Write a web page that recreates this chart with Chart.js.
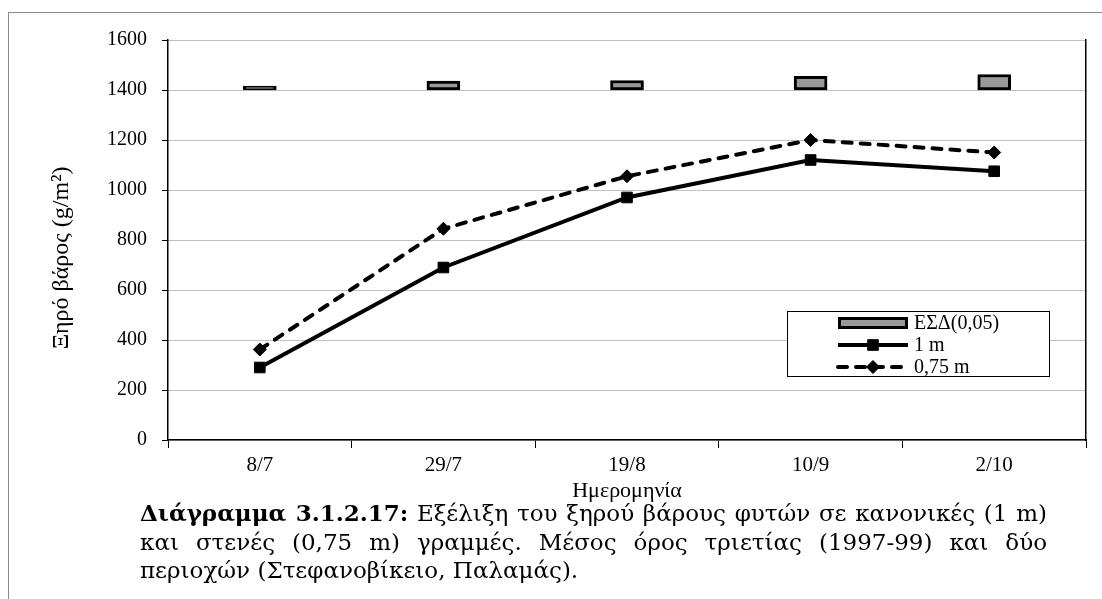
<!DOCTYPE html>
<html lang="el">
<head>
    <meta charset="UTF-8">
    <title>Διάγραμμα 3.1.2.17</title>
    <script src="https://cdn.jsdelivr.net/npm/chart.js"></script>
    <style>
        html, body { margin: 0; padding: 0; background: #fff; }
        #page { position: relative; width: 1102px; height: 599px; overflow: hidden; }
        #frame { position: absolute; left: 8px; top: 12px; right: -2px; bottom: -2px;
                 border-top: 1px solid #8a8a8a; border-left: 1px solid #8a8a8a; }
        #chartBox { position: absolute; left: 0; top: 0; width: 1102px; height: 510px; }
        #caption { position: absolute; left: 140px; top: 499px; width: 907px;
                   font-family: "DejaVu Serif", serif; font-size: 23px; line-height: 28.5px; color: #000; }
        #caption div { white-space: nowrap; }
        #caption .j { text-align: justify; text-align-last: justify; }
    </style>
</head>
<body>
<div id="page">
    <div id="frame"></div>
    <div id="chartBox"><canvas id="dryChart"></canvas></div>
    <div id="caption">
        <div class="j"><b>Διάγραμμα 3.1.2.17:</b> Εξέλιξη του ξηρού βάρους φυτών σε κανονικές (1 m)</div>
        <div class="j">και στενές (0,75 m) γραμμές. Μέσος όρος τριετίας (1997-99) και δύο</div>
        <div>περιοχών (Στεφανοβίκειο, Παλαμάς).</div>
    </div>
</div>

<script>
    // Δεδομένα
    const categories = ['8/7', '29/7', '19/8', '10/9', '2/10'];
    const lsdBase = 1400;
    const lsdValues = [16, 36, 38, 55, 62];
    const weight1m = [290, 690, 970, 1120, 1075];
    const weight075m = [362, 845, 1055, 1200, 1150];
    const yMin = 0, yMax = 1600, yStep = 200;

    const FONT = '"Liberation Serif", serif';

    // Υπόμνημα μέσα σε πλαίσιο, όπως στο πρωτότυπο
    const boxLegend = {
        id: 'boxLegend',
        afterDatasetsDraw(chart, args, opts) {
            const ctx = chart.ctx;
            const area = chart.chartArea;
            const x0 = area.right - opts.right - opts.width;
            const y0 = area.top + opts.top;
            ctx.save();
            ctx.fillStyle = '#fff';
            ctx.fillRect(x0, y0, opts.width, opts.height);
            ctx.strokeStyle = '#000';
            ctx.lineWidth = 1;
            ctx.strokeRect(x0 + 0.5, y0 + 0.5, opts.width, opts.height);

            chart.data.datasets.forEach((ds, i) => {
                const cy = y0 + opts.firstRow + i * opts.rowHeight;
                const sx = x0 + opts.symbolX;
                const sw = opts.symbolWidth;
                if (ds.type === 'line') {
                    ctx.save();
                    ctx.strokeStyle = ds.borderColor;
                    ctx.lineWidth = ds.borderWidth;
                    ctx.lineCap = ds.borderCapStyle || 'butt';
                    ctx.setLineDash(ds.borderDash || []);
                    ctx.beginPath();
                    ctx.moveTo(sx, cy);
                    ctx.lineTo(sx + sw, cy);
                    ctx.stroke();
                    ctx.restore();
                    ctx.fillStyle = ds.pointBackgroundColor;
                    ctx.strokeStyle = ds.pointBorderColor;
                    Chart.helpers.drawPoint(ctx, {
                        pointStyle: ds.pointStyle, radius: ds.pointRadius,
                        rotation: 0, borderWidth: ds.pointBorderWidth
                    }, sx + sw / 2, cy);
                } else {
                    const h = opts.barSymbolHeight;
                    const bw = ds.borderWidth;
                    ctx.fillStyle = ds.borderColor;
                    ctx.fillRect(sx, cy - h / 2, sw, h);
                    ctx.fillStyle = ds.backgroundColor;
                    ctx.fillRect(sx + bw, cy - h / 2 + bw, sw - 2 * bw, h - 2 * bw);
                }
                ctx.fillStyle = '#000';
                ctx.font = opts.fontSize + 'px ' + FONT;
                ctx.textAlign = 'left';
                ctx.textBaseline = 'middle';
                ctx.fillText(ds.label, x0 + opts.textX, cy + 1);
            });
            ctx.restore();
        }
    };

    new Chart(document.getElementById('dryChart'), {
        type: 'bar',
        data: {
            labels: categories,
            datasets: [{
                type: 'bar',
                label: 'ΕΣΔ(0,05)',
                data: lsdValues.map(v => [lsdBase, lsdBase + v]),
                backgroundColor: '#999999',
                borderColor: '#000000',
                borderWidth: 3,
                borderSkipped: false,
                barThickness: 33,
                order: 2
            }, {
                type: 'line',
                label: '1 m',
                data: weight1m,
                borderColor: '#000',
                borderWidth: 4,
                borderCapStyle: 'butt',
                pointStyle: 'rect',
                pointRadius: 7.5,
                pointBackgroundColor: '#000',
                pointBorderColor: '#000',
                pointBorderWidth: 1,
                tension: 0,
                order: 1
            }, {
                type: 'line',
                label: '0,75 m',
                data: weight075m,
                borderColor: '#000',
                borderWidth: 4,
                borderDash: [9, 9],
                borderCapStyle: 'round',
                pointStyle: 'rectRot',
                pointRadius: 6.5,
                pointBackgroundColor: '#000',
                pointBorderColor: '#000',
                pointBorderWidth: 1,
                tension: 0,
                order: 0
            }]
        },
        options: {
            responsive: true,
            maintainAspectRatio: false,
            animation: false,
            layout: { padding: { top: 40, left: 0, right: 0, bottom: 0 } },
            plugins: {
                legend: { display: false },
                tooltip: { enabled: false },
                boxLegend: {
                    right: 37, top: 271, width: 262, height: 65,
                    firstRow: 12, rowHeight: 22,
                    symbolX: 51, symbolWidth: 70, textX: 127,
                    barSymbolHeight: 12, fontSize: 20
                }
            },
            scales: {
                x: {
                    offset: true,
                    grid: {
                        offset: true, drawOnChartArea: false, tickLength: 8,
                        tickColor: '#000', tickWidth: 1
                    },
                    border: { color: '#000', width: 1.5 },
                    ticks: { color: '#000', padding: 5, font: { family: FONT, size: 21 } },
                    title: {
                        display: true, text: 'Ημερομηνία', color: '#000',
                        font: { family: FONT, size: 22 }, padding: { top: 0, bottom: 6 }
                    },
                    afterFit: s => { s.height = 70; }
                },
                y: {
                    min: yMin, max: yMax,
                    ticks: {
                        stepSize: yStep, color: '#000', padding: 15,
                        font: { family: FONT, size: 20 },
                        callback: v => String(v)
                    },
                    grid: {
                        color: '#808080', lineWidth: 1, tickLength: 6,
                        tickColor: '#000', tickWidth: 1, tickBorderDash: []
                    },
                    border: { color: '#000', width: 1.5, dash: [1, 1] },
                    title: {
                        display: true, text: 'Ξηρό βάρος (g/m²)\u2003\u2002', color: '#000',
                        font: { family: FONT, size: 24 }, padding: { top: 47, bottom: 0 }
                    },
                    afterFit: s => { s.width = 168; }
                },
                yRight: {
                    position: 'right',
                    min: yMin, max: yMax,
                    ticks: { display: false },
                    grid: { display: false },
                    border: { display: true, color: '#000', width: 1.5 },
                    afterFit: s => { s.width = 16; }
                }
            }
        },
        plugins: [boxLegend]
    });
</script>
</body>
</html>
